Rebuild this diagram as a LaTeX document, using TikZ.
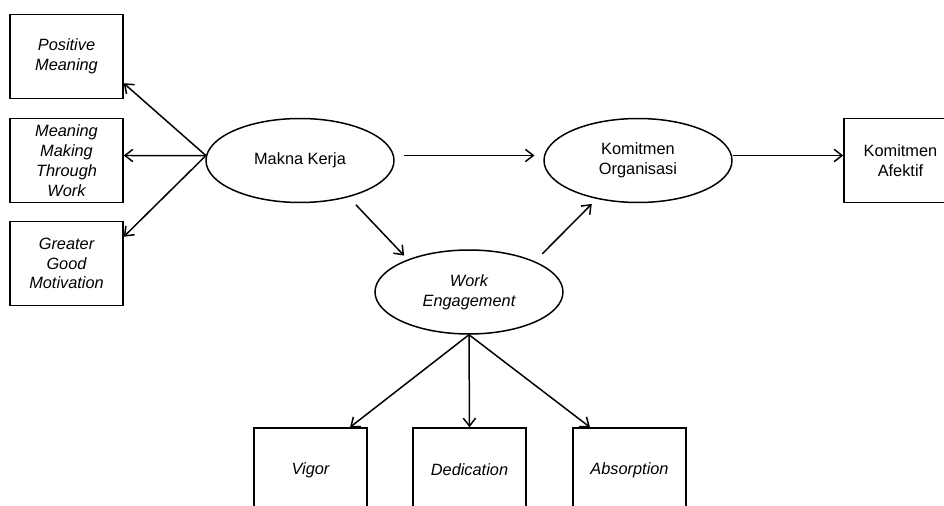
\documentclass[tikz,border=0pt]{standalone}
\usepackage{fontspec}
\setmainfont{Liberation Sans}
\usetikzlibrary{arrows.meta, shapes.geometric}

\begin{document}
\begin{tikzpicture}[x=0.02cm, y=-0.02cm, >={Straight Barb[length=4.5pt,width=7pt]},
  font=\fontsize{9.3}{11.3}\selectfont,
  latent/.style={draw, ellipse, line width=0.85pt, minimum width=3.76cm,
    minimum height=1.68cm, inner sep=0pt, align=center},
  indik/.style={draw, rectangle, line width=0.85pt, minimum width=2.26cm,
    minimum height=1.68cm, inner sep=0pt, align=center},
  link/.style={->, line width=0.85pt}]
  \useasboundingbox (0,0) rectangle (944,506);
  \clip (0,0) rectangle (944,506);

  % Left: indicators of Makna Kerja
  \node[indik, font=\fontsize{9.3}{11.3}\selectfont\itshape] (pm) at (66.5,56.5) {Positive\\Meaning};
  \node[indik, font=\fontsize{9.3}{11.3}\selectfont\itshape] (mmtw) at (66.5,160.5) {Meaning\\Making\\Through\\Work};
  \node[indik, font=\fontsize{9.3}{11.3}\selectfont\itshape] (ggm) at (66.5,263.5) {Greater\\Good\\Motivation};

  % latent variables
  \node[latent] (mk) at (300,160.5) {Makna Kerja};
  \node[latent] (ko) at (638,160.5) {Komitmen\\Organisasi};
  \node[latent, font=\fontsize{9.3}{11.3}\selectfont\itshape] (we) at (469,292) {Work\\Engagement};

  % Right: indicator of Komitmen Organisasi
  \node[indik] (ka) at (900.5,160.5) {Komitmen\\Afektif};

  % Bottom: indicators of Work Engagement
  \node[indik, font=\fontsize{9.3}{11.3}\selectfont\itshape] (vig) at (310.5,470) {Vigor};
  \node[indik, font=\fontsize{9.3}{11.3}\selectfont\itshape] (ded) at (469.5,470) {Dedication};
  \node[indik, font=\fontsize{9.3}{11.3}\selectfont\itshape] (abs) at (629.5,470) {Absorption};

  % Makna Kerja -> its indicators
  \draw[link] (mk.177) -- ([yshift=0.32cm]pm.south east);
  \draw[link] (mk.177) -- ([yshift=0.1cm]mmtw.east);
  \draw[link] (mk.177) -- ([yshift=-0.32cm]ggm.north east);

  % structural paths
  \draw[link, shorten <=5pt, shorten >=5pt] ([yshift=0.1cm]mk.east) -- ([yshift=0.1cm]ko.west);
  \draw[link, shorten <=6pt, shorten >=3pt] (mk.-37) -- (we.152);
  \draw[link, shorten <=6pt, shorten >=4pt] (we.25) -- (ko.223);
  \draw[link] ([yshift=0.1cm]ko.east) -- ([yshift=0.1cm]ka.west);

  % Work Engagement -> its indicators
  \draw[link] (we.south) -- ([xshift=0.79cm]vig.north);
  \draw[link] (we.south) -- (ded.north);
  \draw[link] (we.south) -- ([xshift=-0.79cm]abs.north);
\end{tikzpicture}
\end{document}
